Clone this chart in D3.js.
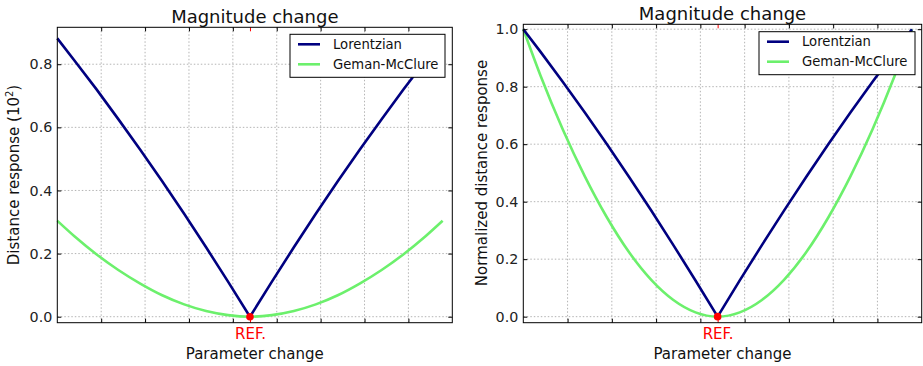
<!DOCTYPE html>
<html>
<head>
<meta charset="utf-8">
<script src="https://cdn.jsdelivr.net/npm/d3@7"></script>
<style>
  html, body { margin: 0; padding: 0; background: #fff; }
  svg { display: block; font-family: "DejaVu Sans", sans-serif; }
</style>
</head>
<body>
<svg id="chart" width="923" height="366"></svg>
<script>
// ---- data (x = parameter change relative to REF, in grid steps) ----
const xValues = [-4.39,-4,-3.5,-3,-2.5,-2,-1.5,-1,-0.5,0,0.5,1,1.5,2,2.5,3,3.5,4,4.39];
const lorentzianRaw = [0.882,0.812,0.721,0.626,0.529,0.429,0.326,0.220,0.111,0,0.111,0.220,0.326,0.429,0.529,0.626,0.721,0.812,0.882];
const gemanRaw = [0.304,0.255,0.198,0.148,0.105,0.068,0.039,0.018,0.005,0,0.005,0.018,0.039,0.068,0.105,0.148,0.198,0.255,0.304];
const lorentzianNorm = [1,0.921,0.817,0.710,0.600,0.486,0.369,0.249,0.126,0,0.126,0.249,0.369,0.486,0.600,0.710,0.817,0.921,1];
const gemanNorm = [1,0.838,0.652,0.488,0.345,0.224,0.128,0.058,0.015,0,0.015,0.058,0.128,0.224,0.345,0.488,0.652,0.838,1];
const gridX = [-3.39,-2.39,-1.39,-0.39,0.61,1.61,2.61,3.61];
const refX = 0;
const refLabel = "REF.";
const yTicksLeft = [0,0.2,0.4,0.6,0.8];
const yTicksRight = [0,0.2,0.4,0.6,0.8,1.0];
const seriesNames = ["Lorentzian","Geman-McClure"];
const seriesColors = ["#000080","#6cf06c"];

const svg = d3.select("#chart");

function panel(cfg) {
  const x = d3.scaleLinear().domain([-4.39, 4.61]).range([cfg.left, cfg.right]);
  const y = d3.scaleLinear().domain(cfg.yDomain).range([cfg.bottom, cfg.top]);
  const g = svg.append("g");

  // grid
  g.selectAll(".gx").data(gridX).enter().append("line")
    .attr("x1", d => x(d)).attr("x2", d => x(d))
    .attr("y1", cfg.top).attr("y2", cfg.bottom)
    .attr("stroke", "#b4b4b4").attr("stroke-width", 1).attr("stroke-dasharray", "1.5,2");
  g.selectAll(".gy").data(cfg.yTicks).enter().append("line")
    .attr("x1", cfg.left).attr("x2", cfg.right)
    .attr("y1", d => y(d)).attr("y2", d => y(d))
    .attr("stroke", "#b4b4b4").attr("stroke-width", 1).attr("stroke-dasharray", "1.5,2");

  // lines
  const series = [cfg.l, cfg.gm];
  const curves = [d3.curveLinear, d3.curveMonotoneX];
  [1, 0].forEach(i => {
    const line = d3.line().x((d, j) => x(xValues[j])).y(d => y(d)).curve(curves[i]);
    g.append("path").datum(series[i])
      .attr("d", line).attr("fill", "none")
      .attr("stroke", seriesColors[i]).attr("stroke-width", 2.6)
      .attr("stroke-linejoin", "round");
  });

  // REF dot
  g.append("circle").attr("cx", x(refX)).attr("cy", y(0)).attr("r", 3.8).attr("fill", "#ff0000");

  // axes (ticks inward)
  const axL = d3.axisLeft(y).tickValues(cfg.yTicks).tickSize(-4).tickPadding(5).tickFormat(d3.format(".1f"));
  const gl = g.append("g").attr("transform", `translate(${cfg.left},0)`).call(axL);
  gl.select(".domain").remove();
  gl.selectAll("text").attr("font-size", 14.3).attr("fill", "#222").attr("font-family", "DejaVu Sans");
  gl.selectAll("line").attr("stroke", "#000");
  const axR = d3.axisRight(y).tickValues(cfg.yTicks).tickSize(-4).tickFormat("");
  const gr = g.append("g").attr("transform", `translate(${cfg.right},0)`).call(axR);
  gr.select(".domain").remove();
  const axB = d3.axisBottom(x).tickValues(gridX).tickSize(-4).tickFormat("");
  const gb = g.append("g").attr("transform", `translate(0,${cfg.bottom})`).call(axB);
  gb.select(".domain").remove();
  const axT = d3.axisTop(x).tickValues(gridX).tickSize(-4).tickFormat("");
  const gt = g.append("g").attr("transform", `translate(0,${cfg.top})`).call(axT);
  gt.select(".domain").remove();
  // REF tick
  const axRef = d3.axisBottom(x).tickValues([refX]).tickSize(-4).tickPadding(5.6).tickFormat(() => refLabel);
  const gref = g.append("g").attr("transform", `translate(0,${cfg.bottom})`).call(axRef);
  gref.select(".domain").remove();
  gref.selectAll("line").attr("stroke", "#ff0000");
  gref.selectAll("text").attr("fill", "#ff0000").attr("font-size", 15).attr("font-family", "DejaVu Sans");
  const axRefT = d3.axisTop(x).tickValues([refX]).tickSize(-4).tickFormat("");
  const grt = g.append("g").attr("transform", `translate(0,${cfg.top})`).call(axRefT);
  grt.select(".domain").remove();
  grt.selectAll("line").attr("stroke", "#ff0000");

  // frame
  g.append("rect").attr("x", cfg.left).attr("y", cfg.top)
    .attr("width", cfg.right - cfg.left).attr("height", cfg.bottom - cfg.top)
    .attr("fill", "none").attr("stroke", "#000").attr("stroke-width", 1);

  // title
  const cx = (cfg.left + cfg.right) / 2;
  g.append("text").attr("x", cx).attr("y", cfg.titleY).attr("text-anchor", "middle")
    .attr("font-size", 18).attr("fill", "#111").text("Magnitude change");
  // x label
  g.append("text").attr("x", cx).attr("y", 359).attr("text-anchor", "middle")
    .attr("font-size", 15).attr("fill", "#111").text("Parameter change");
  // y label
  const yl = g.append("text")
    .attr("transform", `translate(${cfg.ylabelX},${cfg.ylabelY}) rotate(-90)`)
    .attr("text-anchor", "middle").attr("font-size", 15).attr("fill", "#111");
  cfg.ylabel(yl);

  // legend
  const lg = g.append("g");
  lg.append("rect").attr("x", cfg.legX).attr("y", cfg.legY).attr("width", cfg.legW).attr("height", 43)
    .attr("fill", "#fff").attr("stroke", "#000").attr("stroke-width", 1);
  seriesNames.forEach((n, i) => {
    const yy = cfg.legY + 10 + i * 20;
    lg.append("line").attr("x1", cfg.legX + 8).attr("x2", cfg.legX + 30)
      .attr("y1", yy).attr("y2", yy).attr("stroke", seriesColors[i]).attr("stroke-width", 2.6);
    lg.append("text").attr("x", cfg.legX + 43).attr("y", yy + 4.6)
      .attr("font-size", 13.2).attr("fill", "#111").text(n);
  });
}

panel({
  left: 57.3, right: 452.3, top: 27.3, bottom: 322.7,
  yDomain: [-0.019, 0.917], yTicks: yTicksLeft,
  l: lorentzianRaw, gm: gemanRaw,
  titleY: 22.7, ylabelX: 19, ylabelY: 175,
  ylabel: t => { t.append("tspan").text("Distance response (10");
                 t.append("tspan").attr("font-size", 10).attr("dy", -6).text("2");
                 t.append("tspan").attr("dy", 6).text(")"); },
  legX: 290, legY: 34.3, legW: 155
});
panel({
  left: 523.3, right: 921.7, top: 24.3, bottom: 322.7,
  yDomain: [-0.021, 1.017], yTicks: yTicksRight,
  l: lorentzianNorm, gm: gemanNorm,
  titleY: 20, ylabelX: 487, ylabelY: 173,
  ylabel: t => t.text("Normalized distance response"),
  legX: 759, legY: 31.7, legW: 156
});
</script>
</body>
</html>
